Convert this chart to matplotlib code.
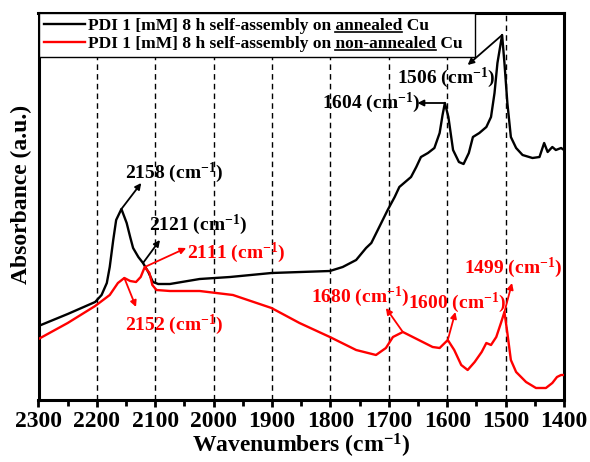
import matplotlib
matplotlib.use("Agg")
from matplotlib import pyplot as plt
from matplotlib.lines import Line2D
from matplotlib.ticker import MultipleLocator

plt.rcParams['font.family'] = ['Liberation Serif', 'DejaVu Serif']
plt.rcParams['font.weight'] = 'bold'
plt.rcParams['mathtext.fontset'] = 'custom'
plt.rcParams['mathtext.rm'] = 'Liberation Serif:bold'
plt.rcParams['mathtext.it'] = 'Liberation Serif:bold'
plt.rcParams['mathtext.bf'] = 'Liberation Serif:bold'

# spectrum on annealed Cu (black)
wn_annealed = [2300, 2250, 2203, 2192, 2183, 2178, 2172, 2167, 2158, 2149,
               2143, 2138, 2129, 2121, 2112, 2104, 2095, 2075, 2024, 1972,
               1901, 1801, 1779, 1756, 1739, 1730, 1713, 1702, 1690, 1682,
               1662, 1653, 1645, 1633, 1622, 1613, 1608, 1604, 1598, 1590,
               1580, 1572, 1563, 1556, 1545, 1533, 1525, 1519, 1514, 1506,
               1502, 1497, 1491, 1482, 1471, 1454, 1442, 1434, 1428, 1420,
               1414, 1405, 1400]
abs_annealed = [0.74, 0.86, 0.98, 1.05, 1.17, 1.33, 1.60, 1.80, 1.91, 1.77,
                1.63, 1.52, 1.43, 1.37, 1.28, 1.18, 1.16, 1.16, 1.21, 1.23,
                1.27, 1.29, 1.33, 1.40, 1.52, 1.57, 1.77, 1.90, 2.03, 2.13,
                2.23, 2.33, 2.43, 2.47, 2.52, 2.67, 2.85, 2.97, 2.83, 2.50,
                2.38, 2.36, 2.47, 2.63, 2.67, 2.73, 2.83, 3.07, 3.37, 3.65,
                3.37, 2.97, 2.63, 2.52, 2.45, 2.42, 2.43, 2.57, 2.48, 2.53,
                2.50, 2.52, 2.50]

# spectrum on non-annealed Cu (red)
wn_nonann = [2300, 2250, 2203, 2178, 2164, 2153, 2143, 2133, 2125, 2118,
             2110, 2105, 2098, 2075, 2024, 1967, 1901, 1853, 1801, 1756,
             1722, 1705, 1693, 1676, 1659, 1642, 1625, 1613, 1599, 1588,
             1576, 1565, 1553, 1541, 1533, 1525, 1516, 1508, 1502, 1497,
             1491, 1482, 1465, 1448, 1431, 1420, 1412, 1405, 1400]
abs_nonann = [0.61, 0.77, 0.94, 1.05, 1.17, 1.22, 1.19, 1.18, 1.23, 1.33,
              1.27, 1.15, 1.10, 1.09, 1.09, 1.05, 0.92, 0.77, 0.63, 0.50,
              0.45, 0.52, 0.63, 0.68, 0.63, 0.58, 0.53, 0.52, 0.60, 0.50,
              0.35, 0.30, 0.38, 0.48, 0.57, 0.55, 0.63, 0.77, 0.88, 0.67,
              0.40, 0.28, 0.18, 0.12, 0.12, 0.17, 0.23, 0.25, 0.25]

grid_wn = [2200, 2100, 2000, 1900, 1800, 1700, 1600, 1500]

# peak labels: text, peak (x, y), arrow head (x, y), text pos (x, y)
black_peaks = [("2158", (2158, 1.91), (2124, 2.17), (2068, 2.27)),
               ("2121", (2121, 1.37), (2092, 1.60), (2026, 1.75)),
               ("1604", (1604, 2.97), (1651, 2.97), (1731, 2.97)),
               ("1506", (1506, 3.65), (1565, 3.35), (1602, 3.22))]
red_peaks = [("2111", (2118, 1.33), (2047, 1.52), (1962, 1.47)),
             ("2152", (2153, 1.22), (2133, 0.93), (2068, 0.75)),
             ("1680", (1676, 0.68), (1705, 0.92), (1749, 1.03)),
             ("1600", (1599, 0.60), (1586, 0.88), (1583, 0.97)),
             ("1499", (1502, 0.88), (1489, 1.17), (1487, 1.32))]

lab1 = "PDI 1 [mM] 8 h self-assembly on annealed Cu"
lab2 = "PDI 1 [mM] 8 h self-assembly on non-annealed Cu"

fig = plt.figure(figsize=(5.9, 4.62), dpi=100)
ax = fig.add_axes([38.5/590, 1-400/462, (564-38.5)/590, (400-13)/462])

for g in grid_wn:
    ax.axvline(g, color='black', lw=1.0, ls=(0, (4, 3)), zorder=1)

ax.plot(wn_annealed, abs_annealed, color='black', lw=1.7, label=lab1, zorder=3)
ax.plot(wn_nonann, abs_nonann, color='red', lw=1.7, label=lab2, zorder=3)

def mark(peaks, c):
    for txt, tail, head, pos in peaks:
        ax.annotate('', xy=head, xytext=tail,
                    arrowprops=dict(arrowstyle='-|>', color=c, lw=1.3,
                                    mutation_scale=9, shrinkA=0, shrinkB=0))
        ax.text(pos[0], pos[1], txt + r' (cm$^{-1}$)', color=c, fontsize=14,
                ha='center', va='center')

mark(black_peaks, 'black')
mark(red_peaks, 'red')

ax.set_xlim(2300, 1400)
ax.set_ylim(0, 3.87)
ax.set_yticks([])
ax.xaxis.set_major_locator(MultipleLocator(100))
ax.xaxis.set_minor_locator(MultipleLocator(50))
ax.tick_params(axis='x', which='major', direction='out', length=5, width=2,
               labelsize=17, pad=3)
ax.tick_params(axis='x', which='minor', direction='out', length=4, width=2)
for s in ax.spines.values():
    s.set_linewidth(2.2)

ax.set_xlabel(r'Wavenumbers (cm$^{-1}$)', fontsize=17, fontweight='bold',
              labelpad=0)
ax.set_ylabel('Absorbance (a.u.)', fontsize=17, fontweight='bold')
ax.yaxis.set_label_coords(-0.012, 0.53)

leg = ax.legend(loc='upper left', bbox_to_anchor=(0, 1, (475-38.5)/525.5, 0),
                mode='expand', borderaxespad=0,
                fancybox=False, framealpha=1, edgecolor='black',
                prop={'family': 'Liberation Serif', 'weight': 'bold', 'size': 12.5},
                handlelength=2.4, handletextpad=0.15, borderpad=0.3,
                labelspacing=0.1)
leg.get_frame().set_linewidth(1.0)
leg.set_zorder(5)

# underline the surface words in the legend
fig.canvas.draw()
r = fig.canvas.get_renderer()
W, H = fig.bbox.width, fig.bbox.height
for t, word in zip(leg.get_texts(), ["annealed", "non-annealed"]):
    s = t.get_text()
    fp = t.get_fontproperties()
    i = s.index(word)
    bb = t.get_window_extent(r)
    w_end = r.get_text_width_height_descent(s[:i + len(word)], fp, False)[0]
    w_first = r.get_text_width_height_descent(s[:i + 1], fp, False)[0]
    w_ch = r.get_text_width_height_descent(word[0], fp, False)[0]
    d = r.get_text_width_height_descent(s, fp, False)[2]
    x0 = bb.x0 + w_first - w_ch
    x1 = bb.x0 + w_end
    y = bb.y0 + d - 2
    fig.add_artist(Line2D([x0 / W, x1 / W], [y / H, y / H], color='black',
                          lw=1.2, zorder=10))

fig.savefig('out.png', dpi=100)
